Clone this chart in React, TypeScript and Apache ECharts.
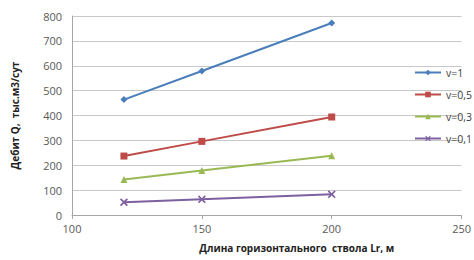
import React, { useEffect, useRef } from "react";
import * as echarts from "echarts";

const xValues = [120, 150, 200];
const seriesNames = ["v=1", "v=0,5", "v=0,3", "v=0,1"];
const v1 = [464, 579, 772];
const v05 = [237, 296, 394];
const v03 = [143, 179, 238];
const v01 = [51, 63, 83];
const allValues = [v1, v05, v03, v01];
const colors = ["#4A7EBB", "#BE4B48", "#98B954", "#7D60A0"];
const symbols = [
  "diamond",
  "rect",
  "triangle",
  "path://M0,1.5L1.5,0L5,3.5L8.5,0L10,1.5L6.5,5L10,8.5L8.5,10L5,6.5L1.5,10L0,8.5L3.5,5Z",
];

export default function App() {
  const ref = useRef<HTMLDivElement>(null);
  useEffect(() => {
    if (!ref.current) return;
    const chart = echarts.init(ref.current, undefined, { renderer: "svg" });
    const font = "'Open Sans', 'Noto Sans', sans-serif";
    chart.setOption({
      animation: false,
      color: colors,
      textStyle: { fontFamily: font },
      grid: { left: 72, right: 12, top: 16, bottom: 45, containLabel: false },
      legend: {
        orient: "vertical",
        left: 414,
        top: 67,
        padding: 0,
        itemWidth: 26,
        itemHeight: 7,
        itemGap: 11,
        textStyle: { fontSize: 10.5, color: "#404040", fontFamily: font },
        data: seriesNames,
      },
      xAxis: {
        type: "value",
        min: 100,
        max: 250,
        interval: 50,
        name: "Длина горизонтального  ствола Lr, м",
        nameLocation: "middle",
        nameGap: 28,
        nameTextStyle: { fontSize: 10, fontWeight: "bold", color: "#222", fontFamily: font, padding: [0, 0, 0, 60] },
        axisLine: { show: true, lineStyle: { color: "#A6A6A6" } },
        axisTick: { show: true, length: 4, lineStyle: { color: "#A6A6A6" } },
        axisLabel: { fontSize: 11, color: "#595959", margin: 8 },
        splitLine: { show: false },
      },
      yAxis: {
        type: "value",
        min: 0,
        max: 800,
        interval: 100,
        name: "Дебит Q,  тыс.м3/сут",
        nameLocation: "middle",
        nameGap: 52,
        nameRotate: 90,
        nameTextStyle: { fontSize: 10, fontWeight: "bold", color: "#222", fontFamily: font },
        axisLine: { show: true, lineStyle: { color: "#A6A6A6" } },
        axisTick: { show: false },
        axisLabel: { fontSize: 11, color: "#595959", margin: 10 },
        splitLine: { show: true, lineStyle: { color: "#C8C8C8" } },
      },
      series: seriesNames.map((name, i) => ({
        name,
        type: "line",
        data: xValues.map((x, j) => [x, allValues[i][j]]),
        symbol: symbols[i],
        symbolSize: i === 3 ? 8 : 7,
        showAllSymbol: true,
        lineStyle: { width: 2, color: colors[i] },
        itemStyle: { color: colors[i] },
      })),
    });
    return () => chart.dispose();
  }, []);
  return <div ref={ref} style={{ width: 474, height: 260, position: "absolute", left: 0, top: 0 }} />;
}
